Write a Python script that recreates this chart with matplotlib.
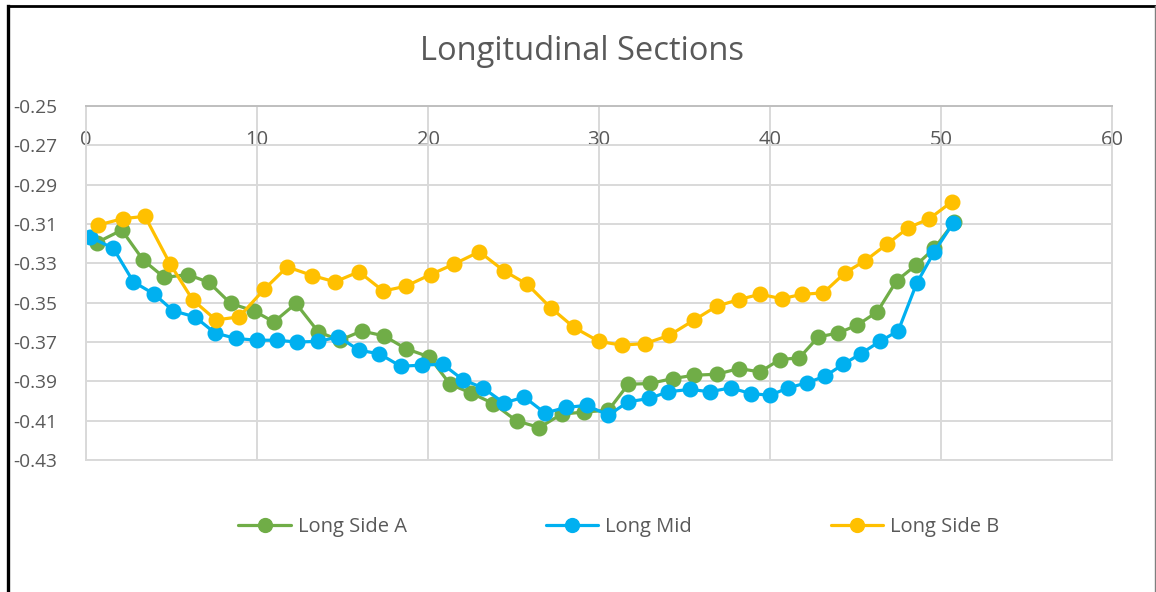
import numpy as np
import matplotlib
matplotlib.use("Agg")
import matplotlib.pyplot as plt
from matplotlib.lines import Line2D

plt.rcParams["font.family"] = ["Open Sans", "DejaVu Sans"]

# ── Survey readings (chainage vs level) ─────────────────────────────────────
side_a_x = [0.62, 2.09, 3.35, 4.58, 5.95, 7.19, 8.46, 9.82, 10.99, 12.28,
            13.59, 14.85, 16.12, 17.43, 18.71, 20.08, 21.29, 22.51, 23.82, 25.18,
            26.51, 27.81, 29.12, 30.55, 31.71, 32.98, 34.30, 35.57, 36.88, 38.19,
            39.42, 40.58, 41.71, 42.83, 44.00, 45.10, 46.27, 47.40, 48.54, 49.61,
            50.78]
side_a_y = [-0.3195, -0.3131, -0.3284, -0.3372, -0.3357, -0.3397, -0.3504, -0.3542, -0.3598, -0.3504,
            -0.3649, -0.3691, -0.3644, -0.3669, -0.3734, -0.3776, -0.3915, -0.3959, -0.4013, -0.4101,
            -0.4135, -0.4067, -0.4056, -0.4047, -0.3915, -0.3911, -0.3886, -0.3869, -0.3864, -0.3835,
            -0.3852, -0.3789, -0.3781, -0.3674, -0.3654, -0.3614, -0.3547, -0.3389, -0.3309, -0.3224,
            -0.3089]

mid_x = [0.23, 1.60, 2.77, 3.98, 5.11, 6.37, 7.54, 8.77, 9.98, 11.15,
         12.32, 13.59, 14.76, 15.98, 17.15, 18.40, 19.63, 20.86, 22.03, 23.23,
         24.44, 25.63, 26.84, 28.07, 29.28, 30.55, 31.71, 32.94, 34.05, 35.32,
         36.49, 37.70, 38.87, 40.00, 41.07, 42.14, 43.22, 44.29, 45.30, 46.43,
         47.50, 48.58, 49.61, 50.72]
mid_y = [-0.3166, -0.3224, -0.3394, -0.3456, -0.3542, -0.3572, -0.3654, -0.3682, -0.3691, -0.3691,
         -0.3700, -0.3697, -0.3674, -0.3742, -0.3760, -0.3823, -0.3818, -0.3813, -0.3891, -0.3934,
         -0.4010, -0.3980, -0.4061, -0.4033, -0.4022, -0.4072, -0.4004, -0.3987, -0.3953, -0.3941,
         -0.3953, -0.3933, -0.3962, -0.3971, -0.3933, -0.3908, -0.3874, -0.3813, -0.3760, -0.3697,
         -0.3643, -0.3401, -0.3241, -0.3094]

side_b_x = [0.68, 2.14, 3.45, 4.91, 6.24, 7.60, 8.96, 10.41, 11.77, 13.23,
            14.56, 15.96, 17.39, 18.71, 20.15, 21.52, 23.00, 24.44, 25.81, 27.17,
            28.54, 30.00, 31.33, 32.69, 34.11, 35.57, 36.88, 38.19, 39.42, 40.68,
            41.85, 43.12, 44.39, 45.56, 46.82, 48.09, 49.32, 50.62]
side_b_y = [-0.3106, -0.3073, -0.3061, -0.3302, -0.3486, -0.3588, -0.3572, -0.3433, -0.3318, -0.3362,
            -0.3394, -0.3343, -0.3441, -0.3416, -0.3357, -0.3304, -0.3241, -0.3338, -0.3407, -0.3525,
            -0.3626, -0.3697, -0.3716, -0.3708, -0.3666, -0.3588, -0.3518, -0.3484, -0.3457, -0.3480,
            -0.3458, -0.3450, -0.3348, -0.3287, -0.3204, -0.3119, -0.3073, -0.2988]

x_ticks = [0, 10, 20, 30, 40, 50, 60]
y_ticks = [-0.43, -0.41, -0.39, -0.37, -0.35, -0.33, -0.31, -0.29, -0.27, -0.25]

GREEN = "#70AD47"
BLUE = "#00B0F0"
YELLOW = "#FFC000"
TEXT = "#595959"
GRID = "#D9D9D9"

W, H = 1156, 592
fig = plt.figure(figsize=(W / 100, H / 100), dpi=100)
ax = fig.add_axes([86 / W, 1 - 460 / H, (1112 - 86) / W, (460 - 106) / H])

series = [
    (side_a_x, side_a_y, GREEN, "Long Side A"),
    (mid_x, mid_y, BLUE, "Long Mid"),
    (side_b_x, side_b_y, YELLOW, "Long Side B"),
]
for xs, ys, col, lab in series:
    ax.plot(xs, ys, color=col, lw=2.3, marker="o", ms=10.5, mec=col, mfc=col,
            label=lab, solid_capstyle="round")

ax.set_xlim(0, 60)
ax.set_ylim(-0.43, -0.25)
ax.set_xticks(x_ticks)
ax.set_xticklabels([str(v) for v in x_ticks])
ax.set_yticks(y_ticks)
ax.set_yticklabels([f"{v:.2f}" for v in y_ticks])

ax.grid(True, color=GRID, lw=1.4)
ax.set_axisbelow(True)
for side in ["left", "right", "top", "bottom"]:
    ax.spines[side].set_color(GRID)
    ax.spines[side].set_linewidth(1.4)
ax.spines["top"].set_color("#BFBFBF")

# x labels sit just under the top (zero-crossing) axis
ax.tick_params(axis="x", bottom=False, top=False, labelbottom=False,
               labeltop=True, pad=-35, labelsize=14.5, labelcolor=TEXT)
ax.tick_params(axis="y", left=False, pad=17, labelsize=13.8, labelcolor=TEXT)

fig.text(582 / W, 1 - 51 / H, "Longitudinal Sections", ha="center", va="center",
         fontsize=23.5, color=TEXT)

fig.legend(loc="center", bbox_to_anchor=(619 / W, 1 - 527 / H), ncol=3,
           frameon=False, fontsize=14.5, handlelength=2.6, handletextpad=0.35,
           columnspacing=6.9, labelcolor=TEXT, markerscale=0.95)

# outer chart frame
fig.add_artist(Line2D([8 / W, 8 / W], [0, 1 - 6 / H], transform=fig.transFigure,
                      color="black", lw=2.4))
fig.add_artist(Line2D([8 / W, 1155 / W], [1 - 6 / H, 1 - 6 / H], transform=fig.transFigure,
                      color="black", lw=2.0))
fig.add_artist(Line2D([1155 / W, 1155 / W], [0, 1 - 6 / H], transform=fig.transFigure,
                      color="#7F7F7F", lw=1.0))

fig.savefig("out.png", dpi=100)
